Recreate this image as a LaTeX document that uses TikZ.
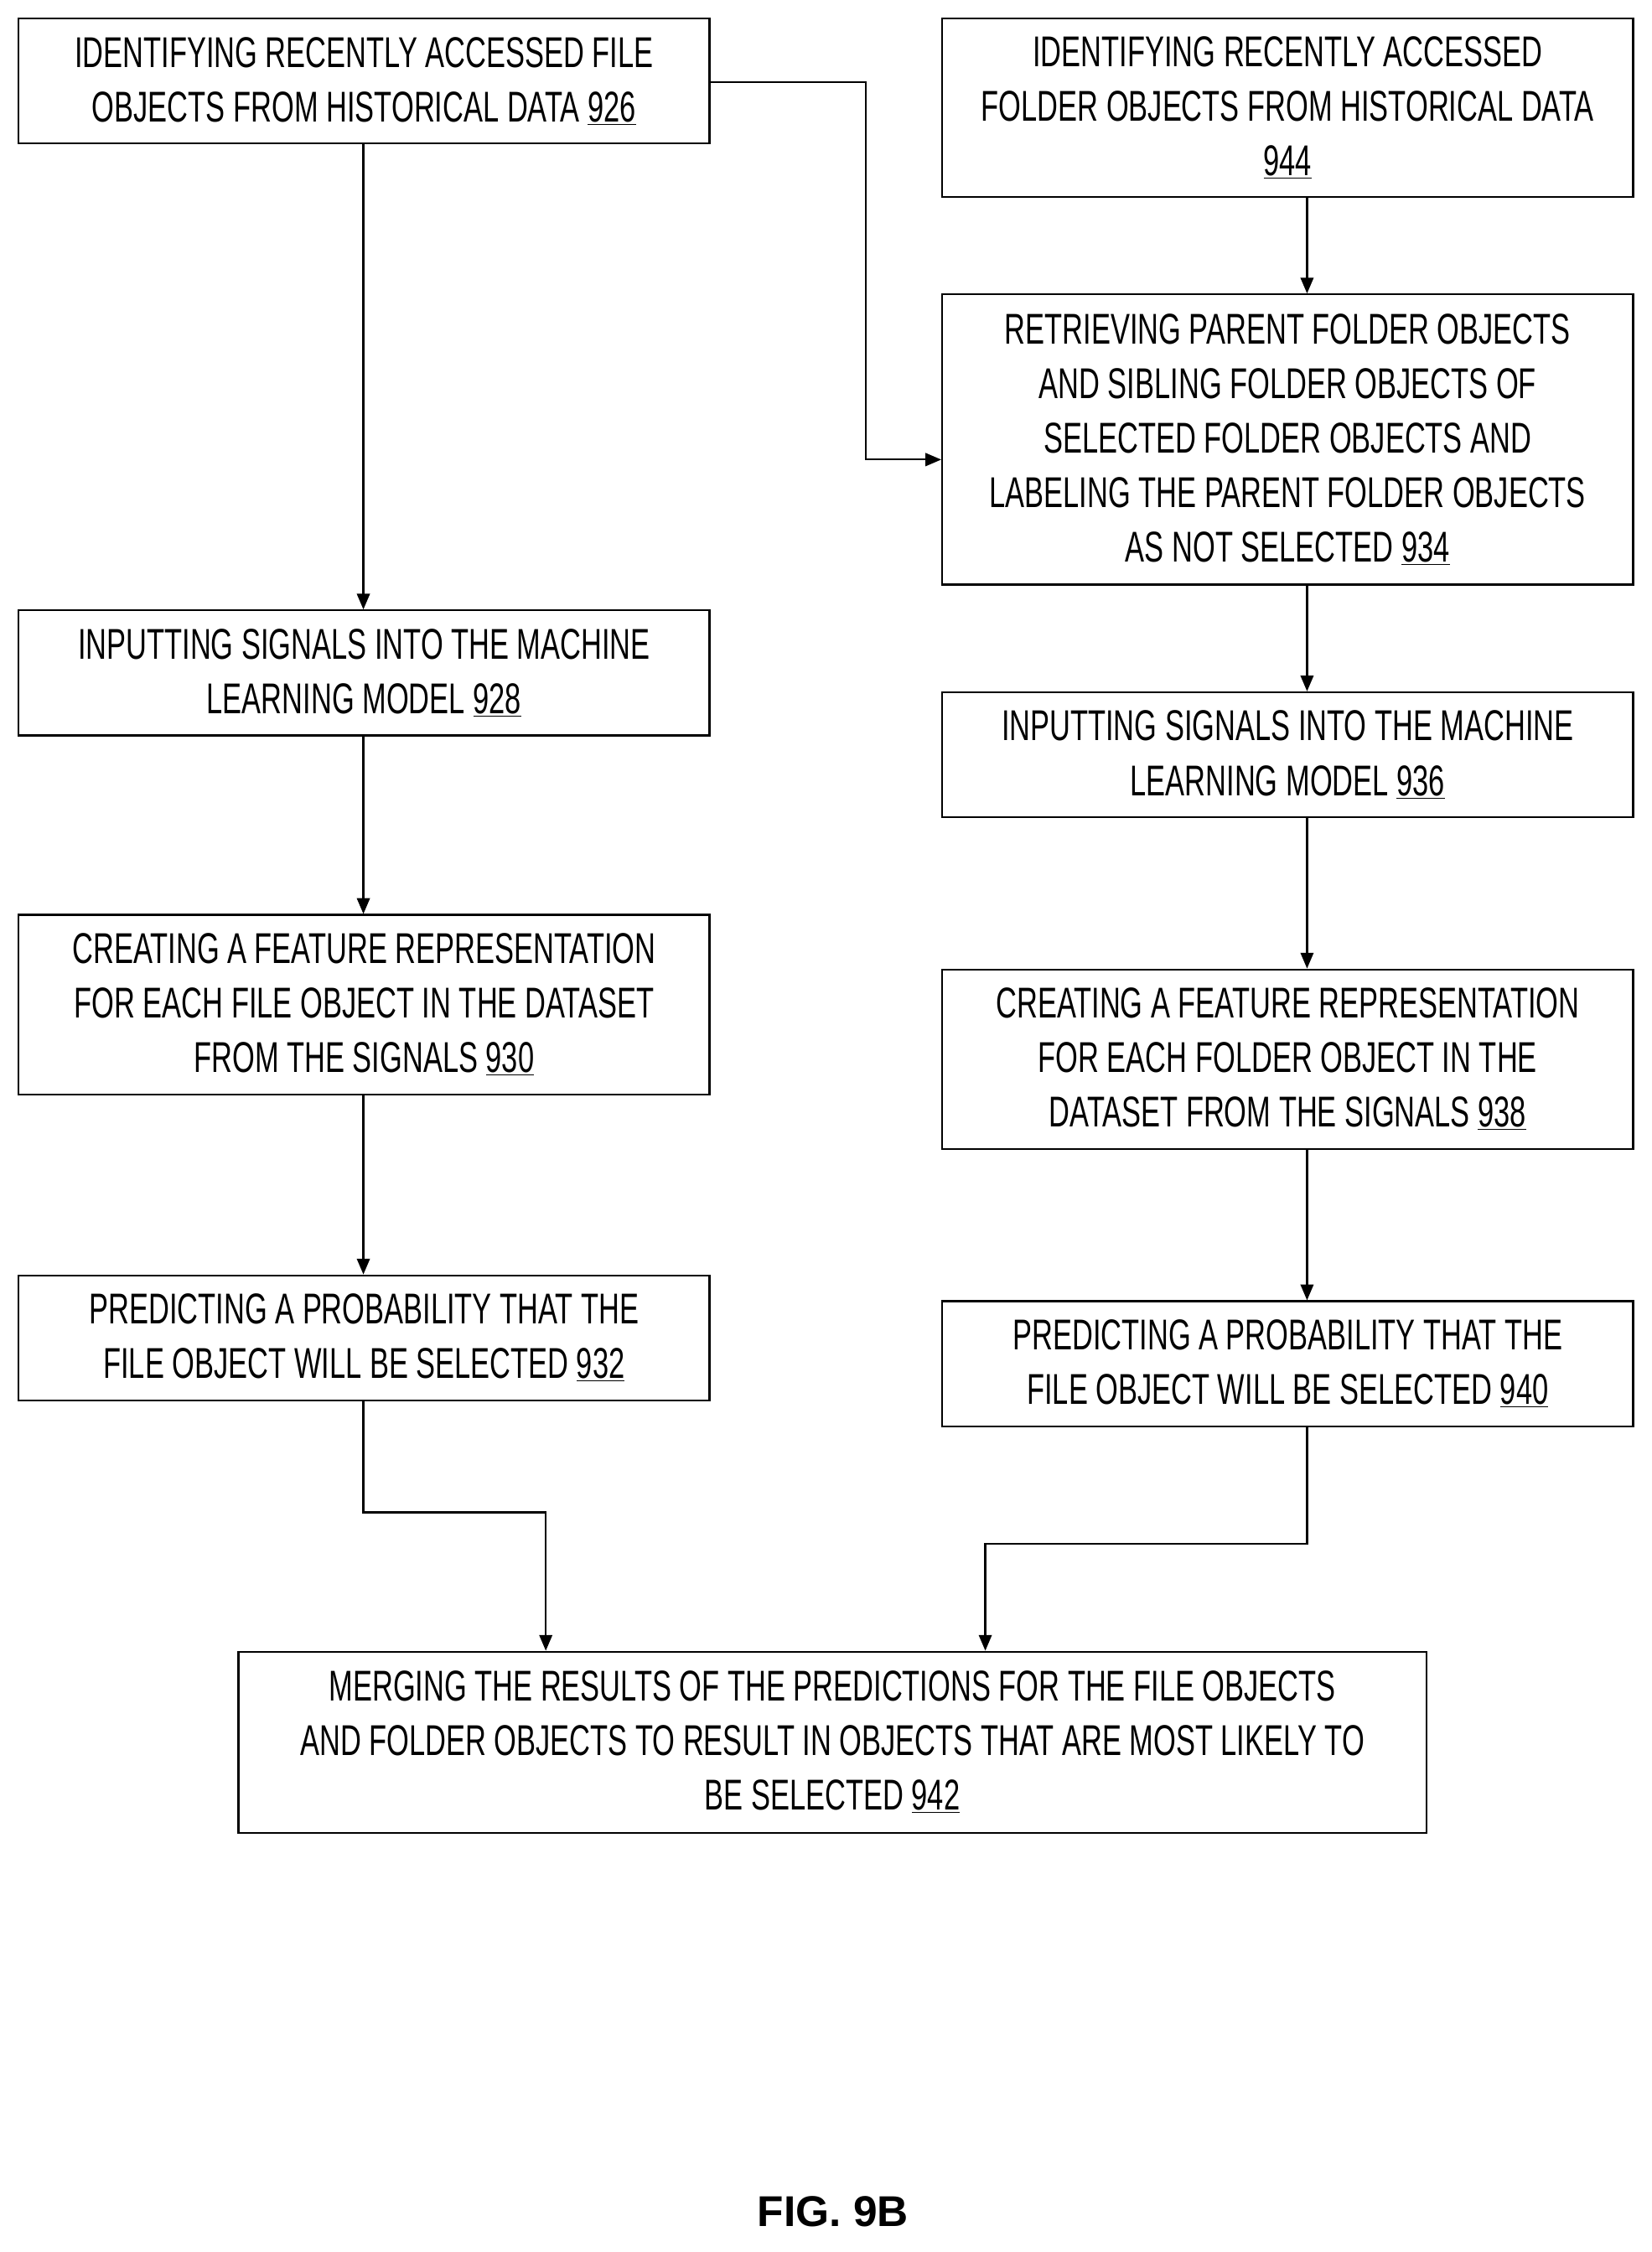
\documentclass[tikz,border=0pt]{standalone}
\usepackage{fontspec}
\setmainfont{Liberation Sans}[FakeStretch=0.67]
\newfontfamily\figfont{Liberation Sans}
\usetikzlibrary{arrows.meta}
\begin{document}
\begin{tikzpicture}[x=1pt,y=-1pt,
  box/.style={draw,line width=1.3pt,align=center,font=\fontsize{30}{38}\selectfont,inner sep=0pt},
  arr/.style={line width=1.3pt,-{Triangle[length=11pt,width=9pt]}}]
\useasboundingbox (0,0) rectangle (1150,1568);
\newcommand\bx[6]{\node[box,minimum width={#4-#2},minimum height={#5-#3}] (#1) at ({(#2+#4)/2},{(#3+#5)/2}) {#6};}
\bx{a}{13}{13}{494}{100}{IDENTIFYING RECENTLY ACCESSED FILE\\OBJECTS FROM HISTORICAL DATA \underline{926}}
\bx{b}{656}{13}{1137}{137}{IDENTIFYING RECENTLY ACCESSED\\FOLDER OBJECTS FROM HISTORICAL DATA\\\underline{944}}
\bx{c}{656}{205}{1137}{407}{RETRIEVING PARENT FOLDER OBJECTS\\AND SIBLING FOLDER OBJECTS OF\\SELECTED FOLDER OBJECTS AND\\LABELING THE PARENT FOLDER OBJECTS\\AS NOT SELECTED \underline{934}}
\bx{d}{13}{425}{494}{512}{INPUTTING SIGNALS INTO THE MACHINE\\LEARNING MODEL \underline{928}}
\bx{e}{656}{482}{1137}{569}{INPUTTING SIGNALS INTO THE MACHINE\\LEARNING MODEL \underline{936}}
\bx{f}{13}{637}{494}{762}{CREATING A FEATURE REPRESENTATION\\FOR EACH FILE OBJECT IN THE DATASET\\FROM THE SIGNALS \underline{930}}
\bx{g}{656}{675}{1137}{800}{CREATING A FEATURE REPRESENTATION\\FOR EACH FOLDER OBJECT IN THE\\DATASET FROM THE SIGNALS \underline{938}}
\bx{h}{13}{888}{494}{975}{PREDICTING A PROBABILITY THAT THE\\FILE OBJECT WILL BE SELECTED \underline{932}}
\bx{i}{656}{906}{1137}{993}{PREDICTING A PROBABILITY THAT THE\\FILE OBJECT WILL BE SELECTED \underline{940}}
\bx{j}{166}{1150}{993}{1276}{MERGING THE RESULTS OF THE PREDICTIONS FOR THE FILE OBJECTS\\AND FOLDER OBJECTS TO RESULT IN OBJECTS THAT ARE MOST LIKELY TO\\BE SELECTED \underline{942}}
\node[font=\figfont\bfseries\fontsize{30}{36}\selectfont] (fig) at (580,1540) {FIG. 9B};
\draw[arr] (a.east|-0,57) -| (603,320) -- (c.west|-0,320);
\draw[arr] (a.south-|253,0) -- (d.north-|253,0);
\draw[arr] (d.south-|253,0) -- (f.north-|253,0);
\draw[arr] (f.south-|253,0) -- (h.north-|253,0);
\draw[arr] (b.south-|910,0) -- (c.north-|910,0);
\draw[arr] (c.south-|910,0) -- (e.north-|910,0);
\draw[arr] (e.south-|910,0) -- (g.north-|910,0);
\draw[arr] (g.south-|910,0) -- (i.north-|910,0);
\draw[arr] (h.south-|253,0) |- (380,1053) -- (j.north-|380,0);
\draw[arr] (i.south-|910,0) |- (686,1075) -- (j.north-|686,0);
\end{tikzpicture}
\end{document}
